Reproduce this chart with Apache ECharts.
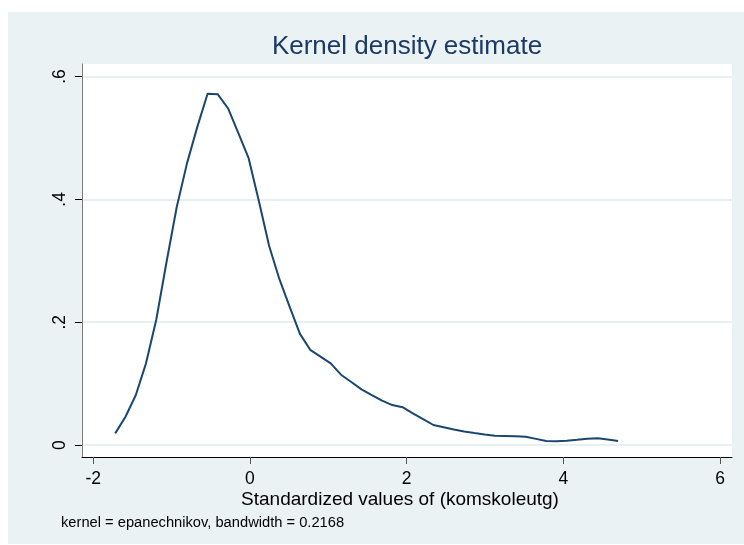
<!DOCTYPE html>
<html>
<head>
<meta charset="utf-8">
<script src="https://cdn.jsdelivr.net/npm/echarts@6/dist/echarts.min.js"></script>
<style>
  html, body { margin: 0; padding: 0; background: #ffffff; }
  #wrap { position: absolute; left: 8px; top: 12px; width: 736px; height: 532px; }
</style>
</head>
<body>
<div id="wrap"></div>
<script>
// Evaluation points (standardized values) and estimated densities
const xValues = [-1.720, -1.589, -1.458, -1.327, -1.196, -1.065, -0.934, -0.803, -0.672, -0.541,
                 -0.410, -0.279, -0.148, -0.017, 0.114, 0.245, 0.376, 0.507, 0.638, 0.769,
                 0.900, 1.031, 1.162, 1.293, 1.424, 1.555, 1.686, 1.817, 1.948, 2.079,
                 2.210, 2.341, 2.472, 2.603, 2.734, 2.865, 2.996, 3.127, 3.258, 3.389,
                 3.520, 3.651, 3.782, 3.913, 4.044, 4.175, 4.306, 4.437, 4.568, 4.699];
const density = [0.019, 0.046, 0.081, 0.133, 0.204, 0.298, 0.388, 0.459, 0.518, 0.572,
                 0.571, 0.548, 0.508, 0.467, 0.397, 0.324, 0.270, 0.225, 0.181, 0.155,
                 0.144, 0.133, 0.1145, 0.1026, 0.0906, 0.0814, 0.0723, 0.065, 0.0616, 0.0517,
                 0.0423, 0.0326, 0.029, 0.0254, 0.022, 0.0196, 0.0173, 0.0152, 0.0147, 0.0142,
                 0.0135, 0.010, 0.0065, 0.0063, 0.007, 0.0085, 0.0104, 0.011, 0.009, 0.0065];
const xTicks = [-2, 0, 2, 4, 6];
const yTicks = [0, 0.2, 0.4, 0.6];
const yTickLabels = ['0', '.2', '.4', '.6'];

const titleText = 'Kernel density estimate';
const xTitleText = 'Standardized values of (komskoleutg)';
const noteText = 'kernel = epanechnikov, bandwidth = 0.2168';

const FONT = '"Liberation Sans", Arial, sans-serif';

const chart = echarts.init(document.getElementById('wrap'), null, { renderer: 'canvas' });
chart.setOption({
  backgroundColor: '#EAF2F3',
  animation: false,
  grid: {
    left: 74, right: 12, top: 52, bottom: 87,
    show: true, backgroundColor: '#ffffff', borderWidth: 0
  },
  xAxis: {
    type: 'value',
    min: -2.144, max: 6.153,
    axisLine: { show: true, onZero: false, lineStyle: { color: '#000000', width: 1 } },
    axisTick: { show: true, length: 7, customValues: xTicks, lineStyle: { color: '#555555', width: 1 } },
    axisLabel: {
      customValues: xTicks, margin: 13, color: '#000000', fontSize: 17.5, fontFamily: FONT,
      formatter: v => String(v)
    },
    splitLine: { show: false }
  },
  yAxis: {
    type: 'value',
    min: -0.0195, max: 0.6204,
    axisLine: { show: true, onZero: false, lineStyle: { color: '#7a7a7a', width: 1 } },
    axisTick: { show: true, length: 7, customValues: yTicks, lineStyle: { color: '#000000', width: 1 } },
    axisLabel: {
      customValues: yTicks, margin: 13, rotate: 90, color: '#000000', fontSize: 17.5, fontFamily: FONT,
      formatter: v => {
        const i = yTicks.findIndex(t => Math.abs(t - v) < 1e-9);
        return i >= 0 ? yTickLabels[i] : '';
      }
    },
    splitLine: { show: true, lineStyle: { color: '#E6EFF1', width: 2 } }
  },
  series: [{
    type: 'line',
    data: xValues.map((x, i) => [x, density[i]]),
    symbol: 'none',
    smooth: false,
    lineStyle: { color: '#1a476f', width: 2 },
    z: 5
  }],
  graphic: [
    { type: 'text', x: 399, y: 35, style: { text: titleText, fill: '#1c3a66', font: '26px ' + FONT, textAlign: 'center', textVerticalAlign: 'middle' } },
    { type: 'text', x: 392, y: 488, style: { text: xTitleText, fill: '#000000', font: '19px ' + FONT, textAlign: 'center', textVerticalAlign: 'middle' } },
    { type: 'text', x: 53, y: 511, style: { text: noteText, fill: '#000000', font: '14.7px ' + FONT, textAlign: 'left', textVerticalAlign: 'middle' } }
  ]
});
</script>
</body>
</html>
